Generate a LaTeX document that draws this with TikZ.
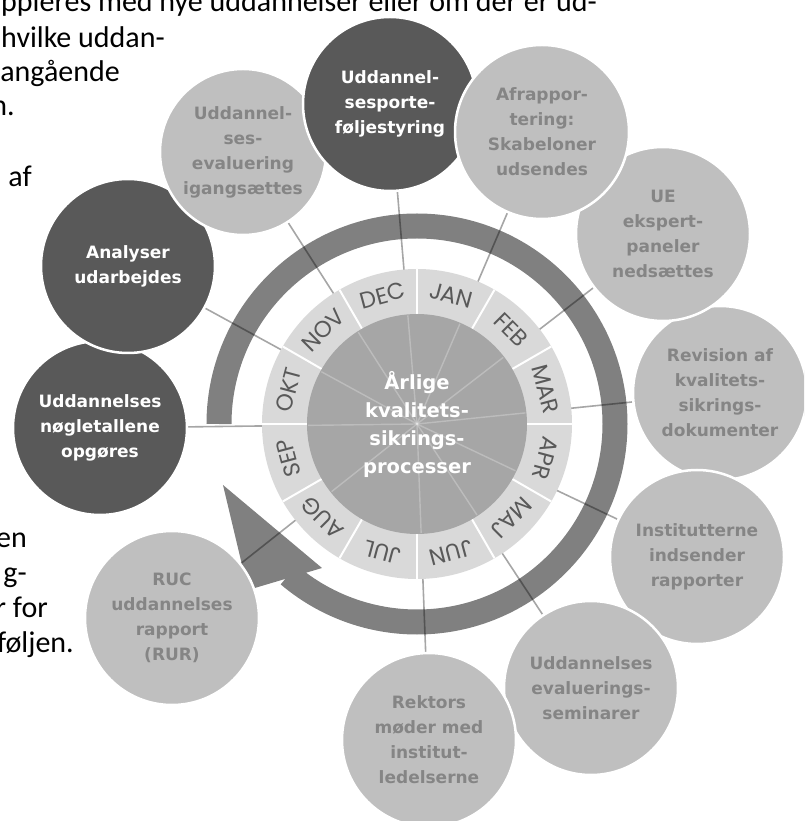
\documentclass[tikz,border=0pt]{standalone}
\usepackage{fontspec}
\setmainfont{Carlito}
\newfontfamily\bubblefont{DejaVu Sans}
\newfontfamily\monthfont{Poppins}
\usetikzlibrary{calc}

\definecolor{darkbub}{HTML}{595959}
\definecolor{lightbub}{HTML}{BFBFBF}
\definecolor{lighttext}{HTML}{858585}
\definecolor{ringgray}{HTML}{D9D9D9}
\definecolor{coregray}{HTML}{A6A6A6}
\definecolor{arcgray}{HTML}{808080}

\pgfdeclarelayer{back}
\pgfsetlayers{back,main}

\begin{document}
\begin{tikzpicture}[x=1pt, y=1pt,
  bodytext/.style={anchor=base east, inner sep=0pt, font=\fontsize{30}{34}\selectfont},
  bubble/.style={circle, minimum size=174pt, inner sep=0pt, draw=white, line width=2.5pt, align=center, font=\bubblefont\bfseries\fontsize{17}{25}\selectfont},
  darkbubble/.style={bubble, fill=darkbub, text=white},
  lightbubble/.style={bubble, fill=lightbub, text=lighttext},
  month/.style={font=\monthfont\fontsize{23}{23}\selectfont, text=darkbub, inner sep=0pt},
  lead/.style={draw=black, draw opacity=.35, line width=1.6pt}]

\useasboundingbox (-417,-397) rectangle (387,424);
\clip (-417,-397) rectangle (387,424);

% text of the page behind
\node[bodytext] (txt1) at (180,412) {suppleres med nye uddannelser eller om der er ud-};
\node[bodytext] (txt2) at (-252,376) {hvilke uddan-};
\node[bodytext] (txt3) at (-297,342) {angående};
\node[bodytext] (txt4) at (-402,308) {n.};
\node[bodytext] (txt5) at (-385,237) {l af};
\node[bodytext] (txt6) at (-390,-123) {en};
\node[bodytext] (txt7) at (-390,-158) {g-};
\node[bodytext] (txt8) at (-369,-193) {r for};
\node[bodytext] (txt9) at (-343,-228) {føljen.};

% wheel
\coordinate (hub) at (0,0);
\fill[ringgray] (hub) circle (155);
\foreach \a in {0,30,...,330}
  \draw[white, line width=2pt] (\a:110) -- (\a:155);
\foreach \m [count=\i] in {JAN,FEB,MAR,APR,MAJ,JUN,JUL,AUG,SEP,OKT,NOV,DEC}
  \node[month, rotate=15-30*\i] (m\i) at (105-30*\i:133) {\m};
\node[circle, fill=coregray, minimum size=220pt, inner sep=0pt, align=center, text=white,
  font=\bubblefont\bfseries\fontsize{19.5}{28}\selectfont] (core) at (hub) {Årlige\\kvalitets-\\sikrings-\\processer};

% bubbles
\node[darkbubble] (nogletal) at (-317,-4) {Uddannelses\\nøgletallene\\opgøres};
\node[darkbubble] (analyser) at (-289,158) {Analyser\\udarbejdes};
\node[lightbubble, minimum size=166pt] (igang) at (-174,272) {Uddannel-\\ses-\\evaluering\\igangsættes};
\node[darkbubble] (portefolje) at (-27,320) {Uddannel-\\sesporte-\\føljestyring};
\node[lightbubble] (revision) at (303,31) {Revision af\\kvalitets-\\sikrings-\\dokumenter};
\node[lightbubble] (ue) at (246,190) {UE\\ekspert-\\paneler\\nedsættes};
\node[lightbubble] (afrap) at (125,292) {Afrappor-\\tering:\\Skabeloner\\udsendes};
\node[lightbubble] (institut) at (280,-133) {Institutterne\\indsender\\rapporter};
\node[lightbubble] (seminar) at (174,-264) {Uddannelses\\evaluerings-\\seminarer};
\node[lightbubble] (rektor) at (12,-316) {Rektors\\møder med\\institut-\\ledelserne};
\node[lightbubble] (rur) at (-245,-194) {RUC\\uddannelses\\rapport\\(RUR)};

\begin{pgfonlayer}{back}
\draw[arcgray, line width=25pt] (180:198) arc[start angle=180, end angle=-130.4, radius=198];
\fill[arcgray] (-194,-61) -- (-169,-166) -- (-95,-144) -- cycle;
\foreach \b in {nogletal,analyser,igang,portefolje,afrap,ue,revision,institut,seminar,rektor,rur}
  \draw[lead] (hub) -- (\b);
\end{pgfonlayer}

\begin{scope}
\clip (hub) circle (109);
\foreach \b in {nogletal,analyser,igang,portefolje,afrap,ue,revision,institut,seminar,rektor,rur}
  \draw[white, draw opacity=.25, line width=1.4pt] (hub) -- (\b);
\end{scope}

\end{tikzpicture}
\end{document}
